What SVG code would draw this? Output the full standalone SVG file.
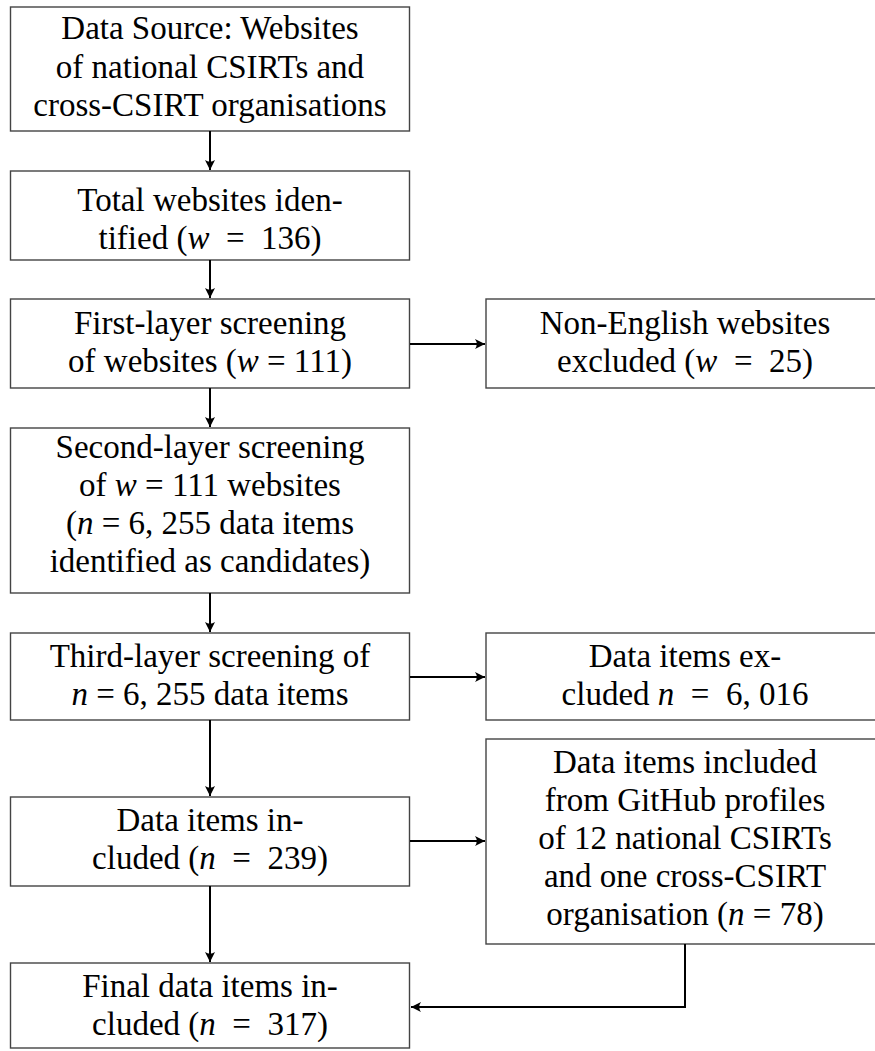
<svg xmlns="http://www.w3.org/2000/svg" width="875" height="1051" viewBox="0 0 875 1051">
<style>
.box{fill:#fff;stroke:#444;stroke-width:1.4}
.t{font-size:33px;fill:#000;text-anchor:middle}
.i{font-style:italic}
.c{fill:none;stroke:#000;stroke-width:2}
</style>
<defs>
<marker id="ah" markerUnits="userSpaceOnUse" markerWidth="14" markerHeight="12" viewBox="-11 -6 12 12" refX="0" refY="0" orient="auto">
<path d="M0,0 L-10,-5 Q-6.5,0 -10,5 Z" fill="#000"/>
</marker>
</defs>
<rect width="875" height="1051" fill="#fff"/>
<g id="n1"><rect class="box" x="10.5" y="7" width="399" height="124"/>
<text class="t" font-family="Liberation Serif" x="210" y="39">Data Source: Websites</text>
<text class="t" font-family="Liberation Serif" x="210" y="78">of national CSIRTs and</text>
<text class="t" font-family="Liberation Serif" x="210" y="116">cross-CSIRT organisations</text></g>
<g id="n2"><rect class="box" x="10.5" y="171" width="399" height="89"/>
<text class="t" font-family="Liberation Serif" x="210" y="211">Total websites iden-</text>
<text class="t" font-family="Liberation Serif" x="210" y="249" xml:space="preserve">tified (<tspan class="i">w</tspan>  =  136)</text></g>
<g id="n3"><rect class="box" x="10.5" y="299" width="399" height="89"/>
<text class="t" font-family="Liberation Serif" x="210" y="334">First-layer screening</text>
<text class="t" font-family="Liberation Serif" x="210" y="372" xml:space="preserve">of websites (<tspan class="i">w</tspan> = 111)</text></g>
<g id="n3r"><rect class="box" x="486" y="299" width="400" height="89"/>
<text class="t" font-family="Liberation Serif" x="685" y="334">Non-English websites</text>
<text class="t" font-family="Liberation Serif" x="685" y="372" xml:space="preserve">excluded (<tspan class="i">w</tspan>  =  25)</text></g>
<g id="n4"><rect class="box" x="10.5" y="428" width="399" height="165"/>
<text class="t" font-family="Liberation Serif" x="210" y="458">Second-layer screening</text>
<text class="t" font-family="Liberation Serif" x="210" y="496" xml:space="preserve">of <tspan class="i">w</tspan> = 111 websites</text>
<text class="t" font-family="Liberation Serif" x="210" y="534" xml:space="preserve">(<tspan class="i">n</tspan> = 6, 255 data items</text>
<text class="t" font-family="Liberation Serif" x="210" y="572">identified as candidates)</text></g>
<g id="n5"><rect class="box" x="10.5" y="633" width="399" height="87"/>
<text class="t" font-family="Liberation Serif" x="210" y="667">Third-layer screening of</text>
<text class="t" font-family="Liberation Serif" x="210" y="705" xml:space="preserve"><tspan class="i">n</tspan> = 6, 255 data items</text></g>
<g id="n5r"><rect class="box" x="486" y="633" width="400" height="87"/>
<text class="t" font-family="Liberation Serif" x="685" y="667">Data items ex-</text>
<text class="t" font-family="Liberation Serif" x="685" y="705" xml:space="preserve">cluded <tspan class="i">n</tspan>  =  6, 016</text></g>
<g id="n6"><rect class="box" x="10.5" y="797" width="399" height="89"/>
<text class="t" font-family="Liberation Serif" x="210" y="831">Data items in-</text>
<text class="t" font-family="Liberation Serif" x="210" y="869" xml:space="preserve">cluded (<tspan class="i">n</tspan>  =  239)</text></g>
<g id="n6r"><rect class="box" x="486" y="739" width="400" height="205"/>
<text class="t" font-family="Liberation Serif" x="685" y="773">Data items included</text>
<text class="t" font-family="Liberation Serif" x="685" y="811">from GitHub profiles</text>
<text class="t" font-family="Liberation Serif" x="685" y="849">of 12 national CSIRTs</text>
<text class="t" font-family="Liberation Serif" x="685" y="887">and one cross-CSIRT</text>
<text class="t" font-family="Liberation Serif" x="685" y="925" xml:space="preserve">organisation (<tspan class="i">n</tspan> = 78)</text></g>
<g id="n7"><rect class="box" x="10.5" y="963" width="399" height="85"/>
<text class="t" font-family="Liberation Serif" x="210" y="997">Final data items in-</text>
<text class="t" font-family="Liberation Serif" x="210" y="1035" xml:space="preserve">cluded (<tspan class="i">n</tspan>  =  317)</text></g>
<g id="connectors">
<path class="c" d="M210,131 V170" marker-end="url(#ah)"/>
<path class="c" d="M210,260 V298" marker-end="url(#ah)"/>
<path class="c" d="M210,388 V427" marker-end="url(#ah)"/>
<path class="c" d="M210,593 V632" marker-end="url(#ah)"/>
<path class="c" d="M210,720 V796" marker-end="url(#ah)"/>
<path class="c" d="M210,886 V962" marker-end="url(#ah)"/>
<path class="c" d="M410,344 H485" marker-end="url(#ah)"/>
<path class="c" d="M410,677 H485" marker-end="url(#ah)"/>
<path class="c" d="M410,841 H485" marker-end="url(#ah)"/>
<path class="c" d="M685,944 V1007 H411" marker-end="url(#ah)"/>
</g>
</svg>
